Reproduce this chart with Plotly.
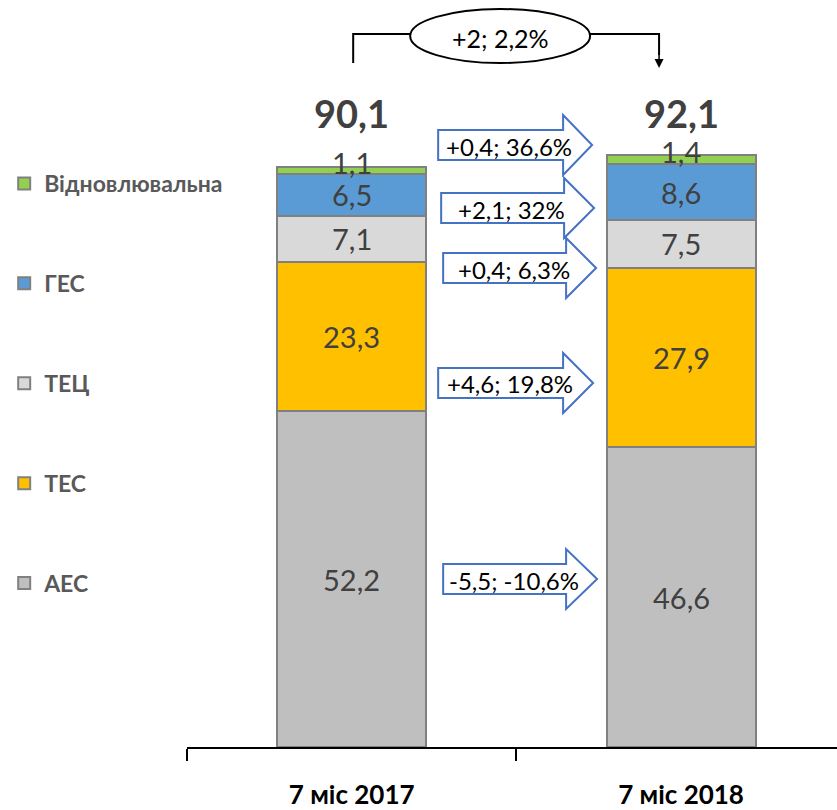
import plotly.graph_objects as go

# ---------------- data ----------------
categories = ["7 міс 2017", "7 міс 2018"]
series_names = ["АЕС", "ТЕС", "ТЕЦ", "ГЕС", "Відновлювальна"]
aes = [52.2, 46.6]
tes = [23.3, 27.9]
tec = [7.1, 7.5]
ges = [6.5, 8.6]
renewable = [1.1, 1.4]
totals = [90.1, 92.1]
total_change_label = "+2; 2,2%"
# change labels, bottom segment to top segment
change_labels = ["-5,5; -10,6%", "+4,6; 19,8%", "+0,4; 6,3%", "+2,1; 32%", "+0,4; 36,6%"]

# ---------------- styles ----------------
colors = ["#BFBFBF", "#FFC000", "#D9D9D9", "#5B9BD5", "#92D050"]
FONT = "Lato, Noto Sans, sans-serif"
W, H = 837, 810
L, R, T, B = 186.75, 0, 0, 63
PW, PH = W - L - R, H - T - B
YMAX = 747 / 6.43


def px(x):
    return (x - L) / PW


def py(y):
    return (H - B - y) / PH


series = [aes, tes, tec, ges, renewable]

fig = go.Figure()
for i, (name, vals, col) in enumerate(zip(series_names, series, colors)):
    fig.add_trace(go.Bar(
        x=categories, y=vals, name=name, legendgroup=name,
        legendrank=len(series_names) - i,
        marker=dict(color=col, line=dict(color="#808080", width=2)),
        width=0.452, hoverinfo="skip",
    ))

annotations = []
# segment labels
for ci, cat in enumerate(categories):
    base = 0.0
    for si, vals in enumerate(series):
        v = vals[ci]
        annotations.append(dict(
            x=cat, y=base + v / 2, xref="x", yref="y", showarrow=False,
            xanchor="center", yanchor="middle",
            text=f"{v:.1f}".replace(".", ","),
            font=dict(family=FONT, size=29, color="#404040"),
            yshift=8 if si == len(series) - 1 else 0,
        ))
        base += v

# totals
label_h = max(totals) + 6.5
for ci, cat in enumerate(categories):
    annotations.append(dict(
        x=cat, y=label_h, xref="x", yref="y", showarrow=False,
        xanchor="center", yanchor="middle",
        text=f"<b>{totals[ci]:.1f}</b>".replace(".", ","),
        font=dict(family=FONT, size=38, color="#404040"),
    ))

# block arrows (decorations): left, centre y, head start, tip  (pixels)
arrow_geom = [
    (443, 579, 566, 597),
    (438, 383, 563, 593),
    (443, 268, 566, 596),
    (441, 208, 564, 594),
    (438, 145, 563, 592),
]
shapes = []
for (lx, cy, hx, tx), lab in zip(arrow_geom, change_labels):
    bh, hh = 15, 30
    pts = [(lx, cy - bh), (hx, cy - bh), (hx, cy - hh), (tx, cy), (hx, cy + hh),
           (hx, cy + bh), (lx, cy + bh)]
    path = "M " + " L ".join(f"{px(a):.5f},{py(b):.5f}" for a, b in pts) + " Z"
    shapes.append(dict(type="path", path=path, xref="paper", yref="paper",
                       line=dict(color="#4472C4", width=2), fillcolor="white"))
    annotations.append(dict(
        x=px((lx + tx) / 2 - 6), y=py(cy + 1), xref="paper", yref="paper",
        xanchor="center", yanchor="middle",
        showarrow=False, text=lab,
        font=dict(family=FONT, size=24, color="#000000"),
    ))

# top bracket with ellipse
shapes.append(dict(type="path", xref="paper", yref="paper",
                   path=f"M {px(353)},{py(63)} L {px(353)},{py(34)} L {px(412)},{py(34)}",
                   line=dict(color="black", width=2)))
shapes.append(dict(type="path", xref="paper", yref="paper",
                   path=f"M {px(588)},{py(34)} L {px(659)},{py(34)} L {px(659)},{py(55)}",
                   line=dict(color="black", width=2)))
shapes.append(dict(type="circle", xref="paper", yref="paper",
                   x0=px(410), x1=px(590), y0=py(9), y1=py(63),
                   line=dict(color="black", width=2), fillcolor="white"))
annotations.append(dict(
    x=px(500), y=py(38), xref="paper", yref="paper", showarrow=False,
    xanchor="center", yanchor="middle",
    text=total_change_label, font=dict(family=FONT, size=25, color="#000000"),
))
annotations.append(dict(
    x=px(659), y=py(68), ax=0, ay=-18, xref="paper", yref="paper",
    axref="pixel", ayref="pixel", showarrow=True, arrowhead=2, arrowsize=1.2,
    arrowwidth=1.5, arrowcolor="black", text="",
))

fig.update_layout(
    barmode="stack",
    width=W, height=H,
    margin=dict(l=L, r=R, t=T, b=B, pad=0, autoexpand=False),
    plot_bgcolor="white", paper_bgcolor="white",
    font=dict(family=FONT),
    showlegend=True,
    legend=dict(
        traceorder="grouped", tracegroupgap=67, maxheight=700,
        xref="container", yref="container", x=0.005, y=1 - 162 / H,
        xanchor="left", yanchor="top",
        font=dict(family=FONT, size=23, color="#595959", weight="bold"),
        itemclick=False, itemdoubleclick=False,
    ),
    xaxis=dict(
        range=[-0.5, (W - L) / 329.5 - 0.5],
        showline=True, linecolor="black", linewidth=1.5,
        ticks="outside", tickson="boundaries", ticklen=12, tickcolor="black",
        tickwidth=1.5, ticklabelstandoff=24,
        tickfont=dict(family=FONT, size=26, color="#000000", weight="bold"),
        showgrid=False, zeroline=False, fixedrange=True,
    ),
    yaxis=dict(range=[0, YMAX], visible=False, showgrid=False, fixedrange=True),
    annotations=annotations,
    shapes=shapes,
)

fig.write_html("out.html", config={"displayModeBar": False},
               post_script="document.body.style.margin='0';")
